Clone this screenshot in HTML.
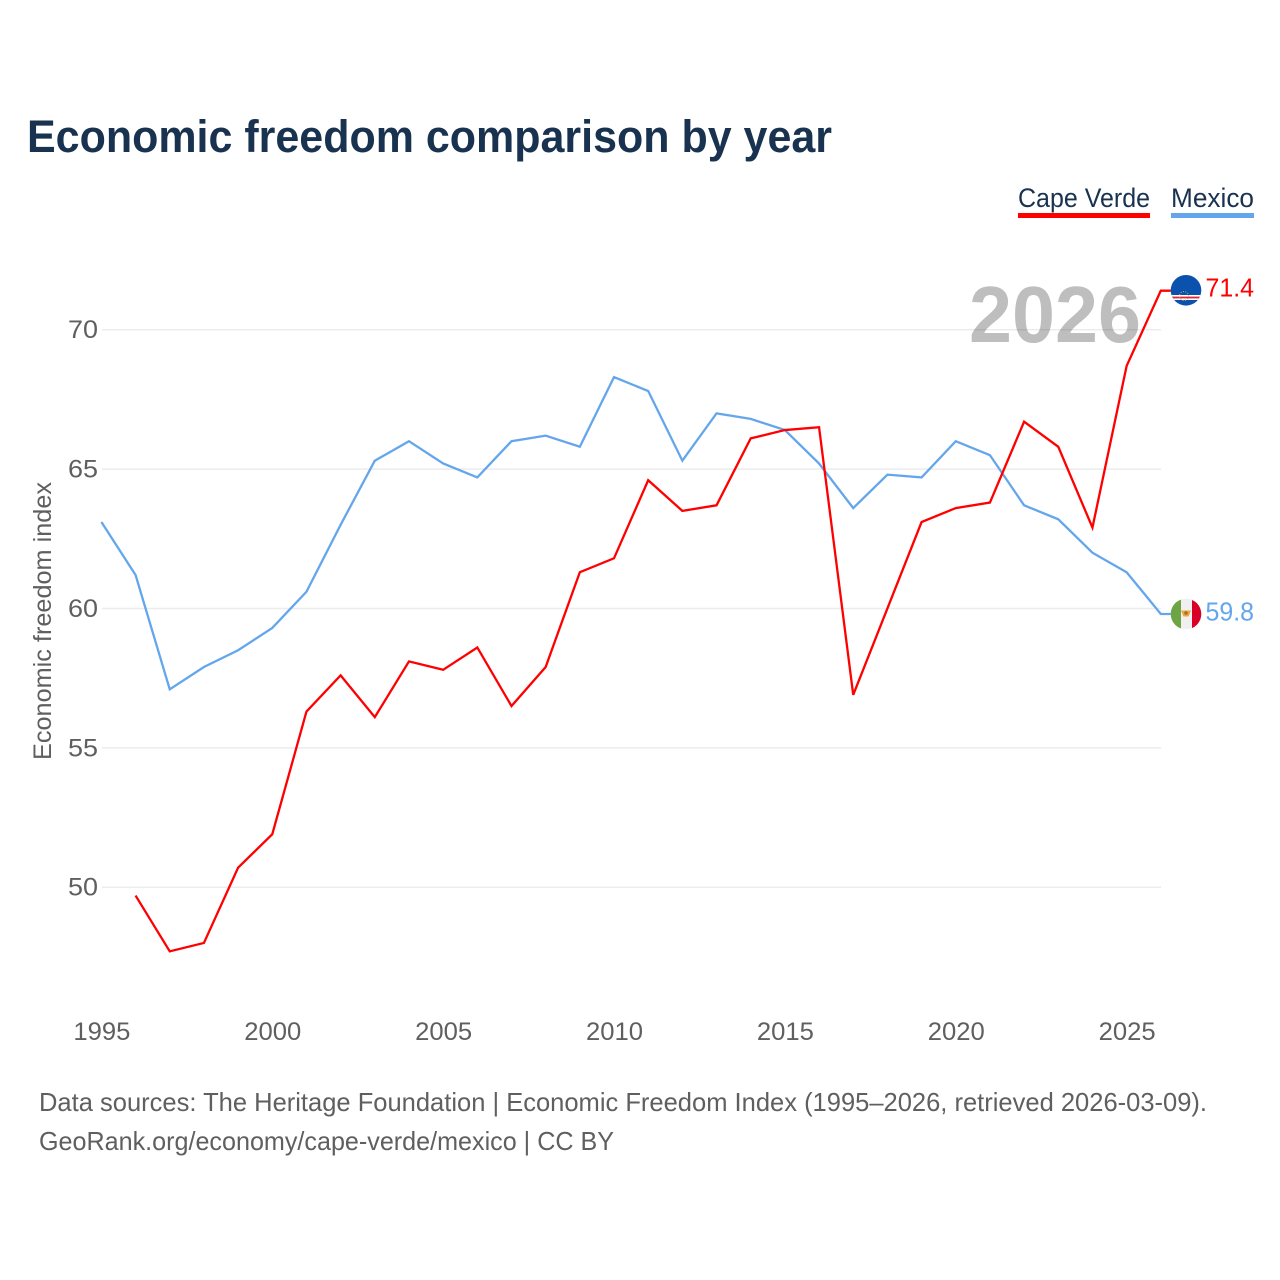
<!DOCTYPE html>
<html lang="en">
<head>
<meta charset="utf-8">
<title>Economic freedom comparison by year</title>
<style>
html,body{margin:0;padding:0;background:#fff;width:1280px;height:1280px;overflow:hidden}
svg{display:block}
text{font-family:"Liberation Sans",Arial,sans-serif}
</style>
</head>
<body>
<svg id="chart" xmlns="http://www.w3.org/2000/svg" width="1280" height="1280" viewBox="0 0 1280 1280">
  <rect width="1280" height="1280" fill="#fff"/>
  <text x="27" y="152" font-size="45" font-weight="700" fill="#18324f" textLength="805" lengthAdjust="spacingAndGlyphs">Economic freedom comparison by year</text>

  <g>
    <text x="1018" y="207" font-size="27" fill="#18324f" textLength="132" lengthAdjust="spacingAndGlyphs">Cape Verde</text>
    <rect x="1018" y="213" width="132" height="5" fill="#ff0000"/>
  </g>
  <g>
    <text x="1171" y="207" font-size="27" fill="#18324f" textLength="83" lengthAdjust="spacingAndGlyphs">Mexico</text>
    <rect x="1171" y="213" width="83" height="5" fill="#64a6ec"/>
  </g>

  <g id="grid"></g>
  <text id="yearOverlay" x="969" y="342" font-size="80" font-weight="700" fill="#000" fill-opacity="0.255" textLength="172" lengthAdjust="spacingAndGlyphs">2026</text>
  <g id="yTicks"></g>
  <g id="xTicks"></g>
  <text transform="translate(51 621) rotate(-90)" text-anchor="middle" font-size="25" fill="#5f5f5f" textLength="278" lengthAdjust="spacingAndGlyphs">Economic freedom index</text>
  <g id="series"></g>

  <defs>
    <clipPath id="flagClipCv"><circle cx="1186" cy="290.3" r="15.3"/></clipPath>
    <clipPath id="flagClipMx"><circle cx="1186" cy="614" r="15.3"/></clipPath>
  </defs>
  <g clip-path="url(#flagClipCv)">
    <rect x="1170" y="274" width="32" height="33" fill="#0a52ae"/>
    <rect x="1170" y="295" width="32" height="5" fill="#fff"/>
    <rect x="1170" y="296.6" width="32" height="1.8" fill="#e0243a"/>
    <circle cx="1184" cy="296" r="4.5" fill="none" stroke="#c9b45a" stroke-width="1" stroke-dasharray="1 1.5"/>
  </g>
  <g clip-path="url(#flagClipMx)">
    <rect x="1170" y="598" width="11" height="32" fill="#6da544"/>
    <rect x="1181" y="598" width="11" height="32" fill="#f0f0f0"/>
    <rect x="1192" y="598" width="10" height="32" fill="#d80027"/>
    <path d="M1181 610.5 h10 l-2.5 6 h-5 z" fill="#f2a33a"/>
    <circle cx="1186" cy="613" r="1.8" fill="#a5722a"/>
  </g>
  <text id="labelCv" x="1205.5" y="296.5" font-size="26" fill="#ff0000" textLength="48.5" lengthAdjust="spacingAndGlyphs"></text>
  <text id="labelMx" x="1205.5" y="620.5" font-size="26" fill="#64a6ec" textLength="48.5" lengthAdjust="spacingAndGlyphs"></text>

  <text x="39" y="1111" font-size="26" fill="#5f5f5f" textLength="1168" lengthAdjust="spacingAndGlyphs">Data sources: The Heritage Foundation | Economic Freedom Index (1995–2026, retrieved 2026-03-09).</text>
  <text x="39" y="1150" font-size="26" fill="#5f5f5f" textLength="575" lengthAdjust="spacingAndGlyphs">GeoRank.org/economy/cape-verde/mexico | CC BY</text>
</svg>
<script>
const years = [1995,1996,1997,1998,1999,2000,2001,2002,2003,2004,2005,2006,2007,2008,2009,2010,2011,2012,2013,2014,2015,2016,2017,2018,2019,2020,2021,2022,2023,2024,2025,2026];
const mexicoValues = [63.1,61.2,57.1,57.9,58.5,59.3,60.6,63.0,65.3,66.0,65.2,64.7,66.0,66.2,65.8,68.3,67.8,65.3,67.0,66.8,66.4,65.2,63.6,64.8,64.7,66.0,65.5,63.7,63.2,62.0,61.3,59.8];
const capeVerdeValues = [null,49.7,47.7,48.0,50.7,51.9,56.3,57.6,56.1,58.1,57.8,58.6,56.5,57.9,61.3,61.8,64.6,63.5,63.7,66.1,66.4,66.5,56.9,60.0,63.1,63.6,63.8,66.7,65.8,62.9,68.7,71.4];
const yTickLabels = [50,55,60,65,70];
const xTickLabels = [1995,2000,2005,2010,2015,2020,2025];

const NS = 'http://www.w3.org/2000/svg';
const xScale = function (year) { return 101.4 + (year - 1995) * (1160.8 - 101.4) / 31; };
const yScale = function (v) { return 887.2 - (v - 50) * (887.2 - 329.7) / 20; };

function make(tag, attrs, parent) {
  const el = document.createElementNS(NS, tag);
  Object.keys(attrs).forEach(function (k) { el.setAttribute(k, attrs[k]); });
  parent.appendChild(el);
  return el;
}

const grid = document.getElementById('grid');
const yTicks = document.getElementById('yTicks');
yTickLabels.forEach(function (t) {
  const line = make('line', {x1: 102, x2: 1161, y1: yScale(t), y2: yScale(t), stroke: '#ececec', 'stroke-width': 1.5}, grid);
  
  
  const label = make('text', {x: 98, y: yScale(t) + 8.5, 'text-anchor': 'end', 'font-size': 25, fill: '#5f5f5f', textLength: 30, lengthAdjust: 'spacingAndGlyphs'}, yTicks);
  
  
  label.textContent = t;
});

const xTicks = document.getElementById('xTicks');
xTickLabels.forEach(function (t) {
  const label = make('text', {x: xScale(t) + 0.5, y: 1040, 'text-anchor': 'middle', 'font-size': 25, fill: '#5f5f5f', textLength: 57, lengthAdjust: 'spacingAndGlyphs'}, xTicks);
  
  
  label.textContent = t;
});

function pathFor(values) {
  let d = '';
  values.forEach(function (v, i) {
    if (v === null) return;
    d += (d ? 'L' : 'M') + xScale(years[i]).toFixed(2) + ' ' + yScale(v).toFixed(2);
  });
  const last = values[values.length - 1];
  d += 'L' + (xScale(years[years.length - 1]) + 10).toFixed(2) + ' ' + yScale(last).toFixed(2);
  return d;
}

const series = document.getElementById('series');
const lineMx = make('path', {d: pathFor(mexicoValues), fill: 'none', stroke: '#64a6ec', 'stroke-width': 2.3, 'stroke-linejoin': 'miter'}, series);


const lineCv = make('path', {d: pathFor(capeVerdeValues), fill: 'none', stroke: '#ff0000', 'stroke-width': 2.3, 'stroke-linejoin': 'miter'}, series);



document.getElementById('labelCv').textContent = capeVerdeValues[capeVerdeValues.length - 1].toFixed(1);
document.getElementById('labelMx').textContent = mexicoValues[mexicoValues.length - 1].toFixed(1);
</script>
</body>
</html>
